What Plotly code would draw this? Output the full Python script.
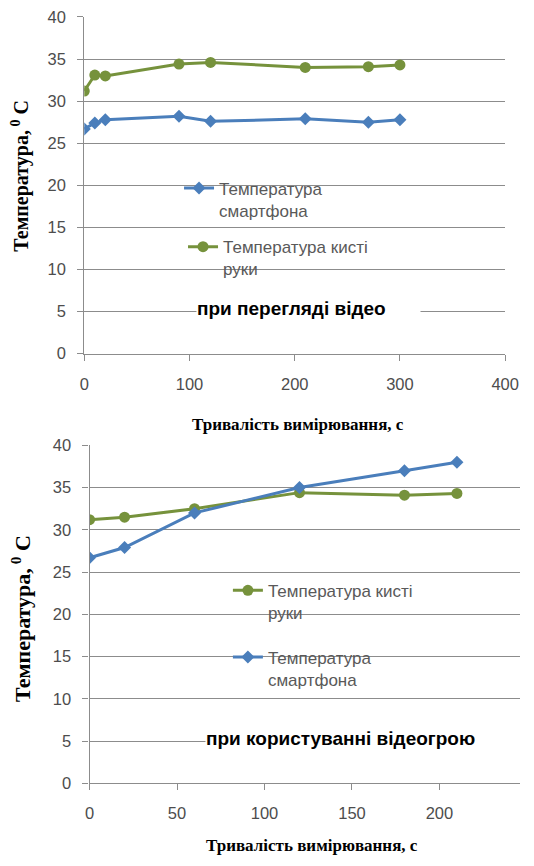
import plotly.graph_objects as go

# ---- data: top chart (при перегляді відео) ----
t_video = [0, 10, 20, 90, 120, 210, 270, 300]
phone_video = [26.7, 27.4, 27.8, 28.2, 27.6, 27.9, 27.5, 27.8]
hand_video = [31.2, 33.1, 33.0, 34.4, 34.6, 34.0, 34.1, 34.3]

# ---- data: bottom chart (при користуванні відеогрою) ----
t_game = [0, 20, 60, 120, 180, 210]
phone_game = [26.7, 27.9, 32.0, 35.0, 37.0, 38.0]
hand_game = [31.2, 31.5, 32.5, 34.4, 34.1, 34.3]

y_ticks = [0, 5, 10, 15, 20, 25, 30, 35, 40]
x_ticks_top = [0, 100, 200, 300, 400]
x_ticks_bottom = [0, 50, 100, 150, 200]

name_phone = "Температура<br>смартфона"
name_hand = "Температура кисті<br>руки"
label_top = "при перегляді відео"
label_bottom = "при користуванні відеогрою"
x_title = "Тривалість вимірювання, с"
y_title = "Температура,<sup> 0</sup> С"

W, H = 534, 866
BLUE = "#4A7EBB"
GREEN = "#76923C"
GRID = "#8C8C8C"
TICKC = "#4D4D4D"

# the photographed page comes out slightly scaled; map target pixels to figure pixels
SX, OX = 0.967, 4.5
SY, OY = 0.983, 6.0


def fxp(x):  # target pixel -> figure pixel (x)
    return (x - OX) / SX


def fyp(y):
    return (y - OY) / SY


def px(x):
    return min(1.0, max(0.0, fxp(x) / W))


def py(y):
    return min(1.0, max(0.0, 1 - fyp(y) / H))


fig = go.Figure()

fig.add_trace(go.Scatter(x=t_video, y=phone_video, name=name_phone, mode="lines+markers",
                         line=dict(color=BLUE, width=3),
                         marker=dict(symbol="diamond", size=10, color=BLUE),
                         xaxis="x", yaxis="y", legend="legend"))
fig.add_trace(go.Scatter(x=t_video, y=hand_video, name=name_hand, mode="lines+markers",
                         line=dict(color=GREEN, width=3),
                         marker=dict(symbol="circle", size=11, color=GREEN),
                         xaxis="x", yaxis="y", legend="legend2"))
fig.add_trace(go.Scatter(x=t_game, y=hand_game, name=name_hand, mode="lines+markers",
                         line=dict(color=GREEN, width=3),
                         marker=dict(symbol="circle", size=11, color=GREEN),
                         xaxis="x2", yaxis="y2", legend="legend3"))
fig.add_trace(go.Scatter(x=t_game, y=phone_game, name=name_phone, mode="lines+markers",
                         line=dict(color=BLUE, width=3),
                         marker=dict(symbol="diamond", size=10, color=BLUE),
                         xaxis="x2", yaxis="y2", legend="legend4"))

tickfont = dict(family="Liberation Sans", size=16.5, color=TICKC)

common_y = dict(range=[0, 40], tickvals=y_ticks, showgrid=True, gridcolor=GRID, gridwidth=1.3,
                showline=True, linecolor=GRID, linewidth=1.3, ticks="outside", ticklen=6,
                tickcolor=GRID, tickfont=tickfont, zeroline=False, ticklabelstandoff=8)
common_x = dict(showgrid=False, showline=True, linecolor=GRID, linewidth=1.3, ticks="outside",
                ticklen=6, tickcolor=GRID, tickfont=tickfont, zeroline=False, ticklabelstandoff=9)

legfont = dict(family="Liberation Sans", size=17, color="#595959")
legcommon = dict(font=legfont, bgcolor="rgba(0,0,0,0)", borderwidth=0, valign="top",
                 xanchor="left", yanchor="top", tracegroupgap=0)

# bottom x axis: 0 at 89.3 px, 87.7 px per 50 s; axis runs to the right edge
x2_end = (OX + SX * W - 89.3) / (87.7 / 50)

fig.update_layout(
    width=W, height=H, margin=dict(l=0, r=0, t=0, b=0),
    paper_bgcolor="white", plot_bgcolor="white",
    xaxis=dict(domain=[px(84), px(506)], range=[0, 400], tickvals=x_ticks_top, anchor="y", **common_x),
    yaxis=dict(domain=[py(352), py(14)], anchor="x", **common_y),
    xaxis2=dict(domain=[px(89.3), 1.0], range=[0, x2_end], tickvals=x_ticks_bottom, anchor="y2", **common_x),
    yaxis2=dict(domain=[py(783.3), py(444)], anchor="x2", **common_y),
    legend=dict(x=px(179), y=py(168), **legcommon),
    legend2=dict(x=px(183), y=py(227), **legcommon),
    legend3=dict(x=px(228), y=py(572), **legcommon),
    legend4=dict(x=px(228), y=py(639), **legcommon),
    showlegend=True,
)

annots = [
    dict(text=label_top, x=px(196), y=py(307), xanchor="left", yanchor="middle",
         width=(412 - 196) / SX, align="left",
         font=dict(family="Liberation Sans", size=19, color="black", weight="bold"),
         bgcolor="white", borderpad=0),
    dict(text=label_bottom, x=px(205), y=py(738), xanchor="left", yanchor="middle",
         width=W - fxp(205), align="left",
         font=dict(family="Liberation Sans", size=19, color="black", weight="bold"),
         bgcolor="white", borderpad=0),
    dict(text=x_title, x=px(298), y=py(423), xanchor="center", yanchor="middle",
         font=dict(family="Liberation Serif", size=17, color="black", weight="bold")),
    dict(text=x_title, x=px(312), y=0, xanchor="center", yanchor="bottom",
         font=dict(family="Liberation Serif", size=17, color="black", weight="bold")),
    dict(text=y_title, x=px(20), y=py(173), xanchor="center", yanchor="middle", textangle=-90,
         font=dict(family="Liberation Serif", size=20, color="black", weight="bold")),
    dict(text=y_title, x=px(20), y=py(618), xanchor="center", yanchor="middle", textangle=-90,
         font=dict(family="Liberation Serif", size=22, color="black", weight="bold")),
]
for a in annots:
    a.update(xref="paper", yref="paper", showarrow=False)
fig.update_layout(annotations=annots)

fig.write_html("out.html", config={"displayModeBar": False},
               post_script="document.body.style.margin='0px';document.body.style.overflow='hidden';"
                           "document.documentElement.style.overflow='hidden';")
